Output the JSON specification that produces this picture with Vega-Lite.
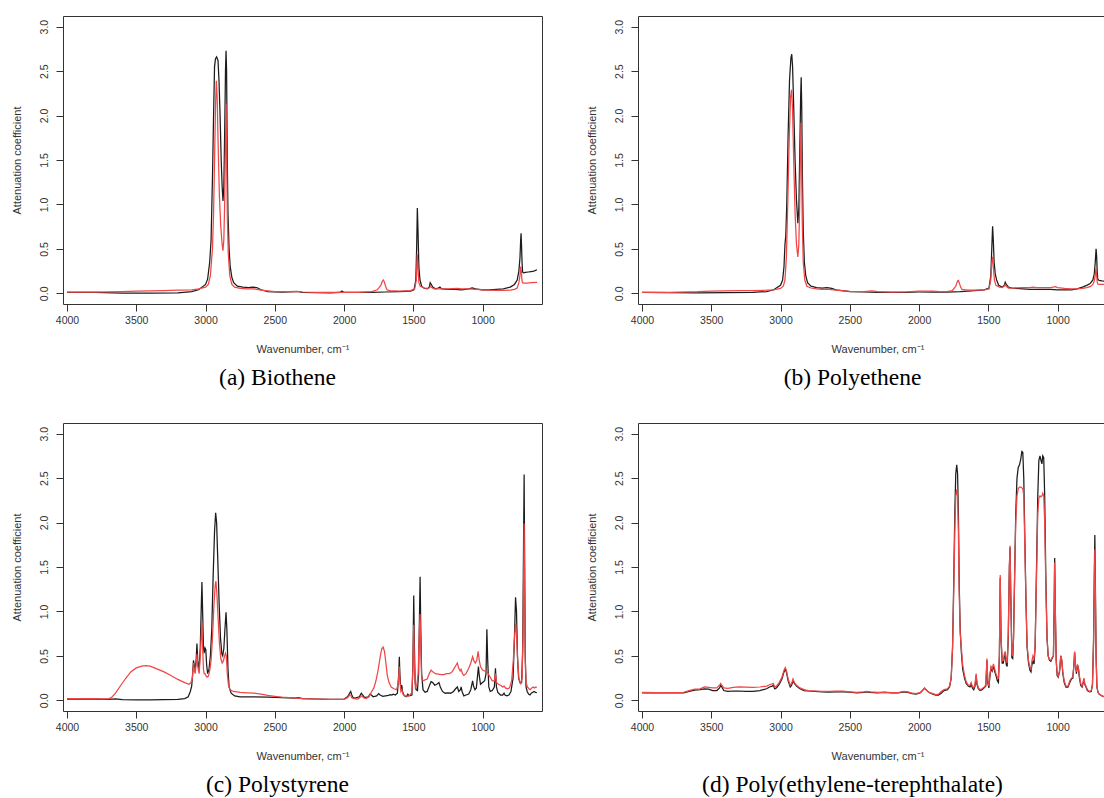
{
"$schema": "https://vega.github.io/schema/vega-lite/v6.json",
"padding": {"left": 10, "top": 15, "right": 0, "bottom": 0},
"background": "white",
"config": {
  "view": {"stroke": "#333333", "strokeWidth": 1},
  "font": "Liberation Sans",
  "axis": {"grid": false, "domain": false, "tickColor": "#333333", "tickSize": 7, "labelColor": "#333333", "labelFont": "Liberation Sans", "labelFontSize": 10.5, "titleFont": "Liberation Sans", "titleFontSize": 11, "titleFontWeight": "normal", "titleColor": "#333333"},
  "axisX": {"labelPadding": 4, "titlePadding": 18},
  "axisY": {"labelAngle": 270, "labelPadding": 7, "titlePadding": 17},
  "title": {"orient": "bottom", "font": "Liberation Serif", "fontSize": 23.5, "fontWeight": "normal", "color": "black", "frame": "group", "anchor": "middle", "dx": -25, "offset": 11},
  "line": {"strokeWidth": 1.25, "clip": true}
},
"datasets": {
"a": [
{"wn":4000,"v":0.012,"s":"k"},{"wn":3800,"v":0.01,"s":"k"},{"wn":3600,"v":0.003,"s":"k"},{"wn":3400,"v":0.002,"s":"k"},{"wn":3200,"v":0.005,"s":"k"},{"wn":3100,"v":0.02,"s":"k"},{"wn":3050,"v":0.04,"s":"k"},{"wn":3000,"v":0.1,"s":"k"},{"wn":2985,"v":0.16,"s":"k"},{"wn":2970,"v":0.35,"s":"k"},{"wn":2960,"v":0.6,"s":"k"},{"wn":2950,"v":1.3,"s":"k"},{"wn":2942,"v":2.0,"s":"k"},{"wn":2935,"v":2.55,"s":"k"},{"wn":2928,"v":2.64,"s":"k"},{"wn":2920,"v":2.66,"s":"k"},{"wn":2910,"v":2.62,"s":"k"},{"wn":2903,"v":2.4,"s":"k"},{"wn":2895,"v":2.0,"s":"k"},{"wn":2887,"v":1.5,"s":"k"},{"wn":2880,"v":1.2,"s":"k"},{"wn":2874,"v":1.04,"s":"k"},{"wn":2868,"v":1.2,"s":"k"},{"wn":2861,"v":1.9,"s":"k"},{"wn":2856,"v":2.5,"s":"k"},{"wn":2852,"v":2.73,"s":"k"},{"wn":2848,"v":2.5,"s":"k"},{"wn":2843,"v":1.5,"s":"k"},{"wn":2838,"v":0.9,"s":"k"},{"wn":2830,"v":0.5,"s":"k"},{"wn":2822,"v":0.3,"s":"k"},{"wn":2810,"v":0.18,"s":"k"},{"wn":2797,"v":0.12,"s":"k"},{"wn":2770,"v":0.08,"s":"k"},{"wn":2730,"v":0.07,"s":"k"},{"wn":2690,"v":0.065,"s":"k"},{"wn":2660,"v":0.07,"s":"k"},{"wn":2630,"v":0.065,"s":"k"},{"wn":2600,"v":0.04,"s":"k"},{"wn":2550,"v":0.02,"s":"k"},{"wn":2450,"v":0.015,"s":"k"},{"wn":2350,"v":0.02,"s":"k"},{"wn":2330,"v":0.02,"s":"k"},{"wn":2300,"v":0.012,"s":"k"},{"wn":2200,"v":0.008,"s":"k"},{"wn":2100,"v":0.006,"s":"k"},{"wn":2030,"v":0.01,"s":"k"},{"wn":2015,"v":0.025,"s":"k"},{"wn":2000,"v":0.01,"s":"k"},{"wn":1900,"v":0.01,"s":"k"},{"wn":1800,"v":0.012,"s":"k"},{"wn":1700,"v":0.015,"s":"k"},{"wn":1600,"v":0.02,"s":"k"},{"wn":1520,"v":0.025,"s":"k"},{"wn":1495,"v":0.04,"s":"k"},{"wn":1482,"v":0.15,"s":"k"},{"wn":1476,"v":0.5,"s":"k"},{"wn":1471,"v":0.96,"s":"k"},{"wn":1466,"v":0.7,"s":"k"},{"wn":1460,"v":0.3,"s":"k"},{"wn":1452,"v":0.15,"s":"k"},{"wn":1440,"v":0.08,"s":"k"},{"wn":1425,"v":0.06,"s":"k"},{"wn":1400,"v":0.05,"s":"k"},{"wn":1385,"v":0.07,"s":"k"},{"wn":1378,"v":0.12,"s":"k"},{"wn":1370,"v":0.1,"s":"k"},{"wn":1360,"v":0.07,"s":"k"},{"wn":1340,"v":0.05,"s":"k"},{"wn":1320,"v":0.06,"s":"k"},{"wn":1308,"v":0.07,"s":"k"},{"wn":1295,"v":0.05,"s":"k"},{"wn":1250,"v":0.045,"s":"k"},{"wn":1200,"v":0.045,"s":"k"},{"wn":1150,"v":0.04,"s":"k"},{"wn":1100,"v":0.05,"s":"k"},{"wn":1075,"v":0.06,"s":"k"},{"wn":1050,"v":0.05,"s":"k"},{"wn":1000,"v":0.04,"s":"k"},{"wn":950,"v":0.04,"s":"k"},{"wn":900,"v":0.045,"s":"k"},{"wn":850,"v":0.05,"s":"k"},{"wn":800,"v":0.07,"s":"k"},{"wn":770,"v":0.1,"s":"k"},{"wn":750,"v":0.15,"s":"k"},{"wn":738,"v":0.25,"s":"k"},{"wn":730,"v":0.4,"s":"k"},{"wn":725,"v":0.6,"s":"k"},{"wn":722,"v":0.675,"s":"k"},{"wn":719,"v":0.55,"s":"k"},{"wn":715,"v":0.35,"s":"k"},{"wn":711,"v":0.24,"s":"k"},{"wn":705,"v":0.23,"s":"k"},{"wn":690,"v":0.235,"s":"k"},{"wn":670,"v":0.24,"s":"k"},{"wn":650,"v":0.245,"s":"k"},{"wn":630,"v":0.25,"s":"k"},{"wn":607,"v":0.265,"s":"k"},
{"wn":4000,"v":0.015,"s":"r"},{"wn":3800,"v":0.015,"s":"r"},{"wn":3600,"v":0.02,"s":"r"},{"wn":3500,"v":0.025,"s":"r"},{"wn":3400,"v":0.027,"s":"r"},{"wn":3300,"v":0.03,"s":"r"},{"wn":3200,"v":0.035,"s":"r"},{"wn":3100,"v":0.04,"s":"r"},{"wn":3050,"v":0.05,"s":"r"},{"wn":3000,"v":0.07,"s":"r"},{"wn":2980,"v":0.1,"s":"r"},{"wn":2965,"v":0.2,"s":"r"},{"wn":2950,"v":0.5,"s":"r"},{"wn":2942,"v":0.9,"s":"r"},{"wn":2935,"v":1.5,"s":"r"},{"wn":2928,"v":2.1,"s":"r"},{"wn":2922,"v":2.39,"s":"r"},{"wn":2916,"v":2.2,"s":"r"},{"wn":2908,"v":1.6,"s":"r"},{"wn":2900,"v":1.1,"s":"r"},{"wn":2890,"v":0.75,"s":"r"},{"wn":2880,"v":0.55,"s":"r"},{"wn":2874,"v":0.48,"s":"r"},{"wn":2868,"v":0.6,"s":"r"},{"wn":2862,"v":1.0,"s":"r"},{"wn":2856,"v":1.7,"s":"r"},{"wn":2852,"v":2.13,"s":"r"},{"wn":2848,"v":1.6,"s":"r"},{"wn":2843,"v":0.9,"s":"r"},{"wn":2836,"v":0.45,"s":"r"},{"wn":2825,"v":0.2,"s":"r"},{"wn":2810,"v":0.1,"s":"r"},{"wn":2790,"v":0.07,"s":"r"},{"wn":2750,"v":0.055,"s":"r"},{"wn":2700,"v":0.05,"s":"r"},{"wn":2650,"v":0.05,"s":"r"},{"wn":2600,"v":0.035,"s":"r"},{"wn":2500,"v":0.02,"s":"r"},{"wn":2400,"v":0.018,"s":"r"},{"wn":2340,"v":0.022,"s":"r"},{"wn":2300,"v":0.015,"s":"r"},{"wn":2200,"v":0.012,"s":"r"},{"wn":2100,"v":0.012,"s":"r"},{"wn":2000,"v":0.012,"s":"r"},{"wn":1900,"v":0.012,"s":"r"},{"wn":1800,"v":0.02,"s":"r"},{"wn":1760,"v":0.04,"s":"r"},{"wn":1735,"v":0.09,"s":"r"},{"wn":1722,"v":0.14,"s":"r"},{"wn":1716,"v":0.15,"s":"r"},{"wn":1710,"v":0.13,"s":"r"},{"wn":1700,"v":0.08,"s":"r"},{"wn":1690,"v":0.04,"s":"r"},{"wn":1670,"v":0.03,"s":"r"},{"wn":1600,"v":0.025,"s":"r"},{"wn":1520,"v":0.03,"s":"r"},{"wn":1490,"v":0.05,"s":"r"},{"wn":1478,"v":0.15,"s":"r"},{"wn":1472,"v":0.44,"s":"r"},{"wn":1467,"v":0.3,"s":"r"},{"wn":1460,"v":0.12,"s":"r"},{"wn":1450,"v":0.08,"s":"r"},{"wn":1420,"v":0.06,"s":"r"},{"wn":1400,"v":0.055,"s":"r"},{"wn":1385,"v":0.06,"s":"r"},{"wn":1377,"v":0.08,"s":"r"},{"wn":1368,"v":0.065,"s":"r"},{"wn":1350,"v":0.05,"s":"r"},{"wn":1300,"v":0.05,"s":"r"},{"wn":1250,"v":0.05,"s":"r"},{"wn":1180,"v":0.055,"s":"r"},{"wn":1150,"v":0.05,"s":"r"},{"wn":1100,"v":0.05,"s":"r"},{"wn":1050,"v":0.045,"s":"r"},{"wn":1000,"v":0.04,"s":"r"},{"wn":950,"v":0.035,"s":"r"},{"wn":900,"v":0.033,"s":"r"},{"wn":850,"v":0.033,"s":"r"},{"wn":800,"v":0.035,"s":"r"},{"wn":770,"v":0.045,"s":"r"},{"wn":750,"v":0.06,"s":"r"},{"wn":738,"v":0.12,"s":"r"},{"wn":730,"v":0.2,"s":"r"},{"wn":725,"v":0.3,"s":"r"},{"wn":720,"v":0.25,"s":"r"},{"wn":716,"v":0.15,"s":"r"},{"wn":712,"v":0.12,"s":"r"},{"wn":700,"v":0.115,"s":"r"},{"wn":680,"v":0.115,"s":"r"},{"wn":650,"v":0.12,"s":"r"},{"wn":607,"v":0.122,"s":"r"}
],
"b": [
{"wn":4000,"v":0.01,"s":"k"},{"wn":3800,"v":0.008,"s":"k"},{"wn":3600,"v":0.005,"s":"k"},{"wn":3400,"v":0.008,"s":"k"},{"wn":3200,"v":0.01,"s":"k"},{"wn":3100,"v":0.02,"s":"k"},{"wn":3050,"v":0.04,"s":"k"},{"wn":3000,"v":0.09,"s":"k"},{"wn":2985,"v":0.15,"s":"k"},{"wn":2975,"v":0.3,"s":"k"},{"wn":2968,"v":0.55,"s":"k"},{"wn":2962,"v":0.65,"s":"k"},{"wn":2955,"v":1.0,"s":"k"},{"wn":2945,"v":1.8,"s":"k"},{"wn":2935,"v":2.4,"s":"k"},{"wn":2925,"v":2.65,"s":"k"},{"wn":2919,"v":2.69,"s":"k"},{"wn":2913,"v":2.55,"s":"k"},{"wn":2905,"v":2.1,"s":"k"},{"wn":2895,"v":1.5,"s":"k"},{"wn":2885,"v":1.05,"s":"k"},{"wn":2875,"v":0.79,"s":"k"},{"wn":2868,"v":0.95,"s":"k"},{"wn":2861,"v":1.6,"s":"k"},{"wn":2855,"v":2.2,"s":"k"},{"wn":2851,"v":2.43,"s":"k"},{"wn":2847,"v":2.1,"s":"k"},{"wn":2842,"v":1.3,"s":"k"},{"wn":2836,"v":0.7,"s":"k"},{"wn":2828,"v":0.35,"s":"k"},{"wn":2818,"v":0.2,"s":"k"},{"wn":2805,"v":0.12,"s":"k"},{"wn":2780,"v":0.08,"s":"k"},{"wn":2740,"v":0.065,"s":"k"},{"wn":2700,"v":0.06,"s":"k"},{"wn":2665,"v":0.065,"s":"k"},{"wn":2630,"v":0.055,"s":"k"},{"wn":2600,"v":0.04,"s":"k"},{"wn":2500,"v":0.02,"s":"k"},{"wn":2400,"v":0.015,"s":"k"},{"wn":2300,"v":0.012,"s":"k"},{"wn":2200,"v":0.01,"s":"k"},{"wn":2100,"v":0.012,"s":"k"},{"wn":2000,"v":0.015,"s":"k"},{"wn":1900,"v":0.015,"s":"k"},{"wn":1800,"v":0.015,"s":"k"},{"wn":1700,"v":0.02,"s":"k"},{"wn":1600,"v":0.03,"s":"k"},{"wn":1530,"v":0.04,"s":"k"},{"wn":1495,"v":0.06,"s":"k"},{"wn":1482,"v":0.2,"s":"k"},{"wn":1475,"v":0.5,"s":"k"},{"wn":1469,"v":0.755,"s":"k"},{"wn":1464,"v":0.6,"s":"k"},{"wn":1458,"v":0.35,"s":"k"},{"wn":1450,"v":0.22,"s":"k"},{"wn":1440,"v":0.15,"s":"k"},{"wn":1425,"v":0.09,"s":"k"},{"wn":1400,"v":0.07,"s":"k"},{"wn":1385,"v":0.09,"s":"k"},{"wn":1378,"v":0.125,"s":"k"},{"wn":1370,"v":0.1,"s":"k"},{"wn":1355,"v":0.07,"s":"k"},{"wn":1330,"v":0.06,"s":"k"},{"wn":1300,"v":0.055,"s":"k"},{"wn":1250,"v":0.05,"s":"k"},{"wn":1200,"v":0.045,"s":"k"},{"wn":1150,"v":0.045,"s":"k"},{"wn":1100,"v":0.045,"s":"k"},{"wn":1050,"v":0.045,"s":"k"},{"wn":1000,"v":0.04,"s":"k"},{"wn":950,"v":0.04,"s":"k"},{"wn":900,"v":0.04,"s":"k"},{"wn":860,"v":0.05,"s":"k"},{"wn":820,"v":0.07,"s":"k"},{"wn":790,"v":0.09,"s":"k"},{"wn":765,"v":0.11,"s":"k"},{"wn":745,"v":0.15,"s":"k"},{"wn":735,"v":0.22,"s":"k"},{"wn":728,"v":0.35,"s":"k"},{"wn":722,"v":0.5,"s":"k"},{"wn":718,"v":0.42,"s":"k"},{"wn":714,"v":0.25,"s":"k"},{"wn":710,"v":0.16,"s":"k"},{"wn":700,"v":0.145,"s":"k"},{"wn":680,"v":0.14,"s":"k"},{"wn":650,"v":0.135,"s":"k"},{"wn":620,"v":0.13,"s":"k"},{"wn":605,"v":0.13,"s":"k"},
{"wn":4000,"v":0.012,"s":"r"},{"wn":3800,"v":0.012,"s":"r"},{"wn":3600,"v":0.018,"s":"r"},{"wn":3500,"v":0.025,"s":"r"},{"wn":3400,"v":0.028,"s":"r"},{"wn":3300,"v":0.03,"s":"r"},{"wn":3200,"v":0.03,"s":"r"},{"wn":3100,"v":0.035,"s":"r"},{"wn":3050,"v":0.04,"s":"r"},{"wn":3000,"v":0.055,"s":"r"},{"wn":2980,"v":0.08,"s":"r"},{"wn":2968,"v":0.15,"s":"r"},{"wn":2958,"v":0.4,"s":"r"},{"wn":2948,"v":1.0,"s":"r"},{"wn":2938,"v":1.7,"s":"r"},{"wn":2928,"v":2.2,"s":"r"},{"wn":2921,"v":2.29,"s":"r"},{"wn":2914,"v":2.1,"s":"r"},{"wn":2905,"v":1.5,"s":"r"},{"wn":2895,"v":0.9,"s":"r"},{"wn":2885,"v":0.55,"s":"r"},{"wn":2875,"v":0.41,"s":"r"},{"wn":2868,"v":0.55,"s":"r"},{"wn":2862,"v":1.0,"s":"r"},{"wn":2856,"v":1.6,"s":"r"},{"wn":2852,"v":1.92,"s":"r"},{"wn":2848,"v":1.5,"s":"r"},{"wn":2843,"v":0.8,"s":"r"},{"wn":2836,"v":0.35,"s":"r"},{"wn":2825,"v":0.15,"s":"r"},{"wn":2810,"v":0.08,"s":"r"},{"wn":2780,"v":0.06,"s":"r"},{"wn":2740,"v":0.05,"s":"r"},{"wn":2700,"v":0.045,"s":"r"},{"wn":2650,"v":0.045,"s":"r"},{"wn":2600,"v":0.035,"s":"r"},{"wn":2500,"v":0.022,"s":"r"},{"wn":2400,"v":0.02,"s":"r"},{"wn":2340,"v":0.028,"s":"r"},{"wn":2300,"v":0.02,"s":"r"},{"wn":2200,"v":0.013,"s":"r"},{"wn":2100,"v":0.015,"s":"r"},{"wn":2030,"v":0.022,"s":"r"},{"wn":2000,"v":0.025,"s":"r"},{"wn":1900,"v":0.025,"s":"r"},{"wn":1850,"v":0.02,"s":"r"},{"wn":1800,"v":0.018,"s":"r"},{"wn":1760,"v":0.03,"s":"r"},{"wn":1735,"v":0.08,"s":"r"},{"wn":1722,"v":0.14,"s":"r"},{"wn":1716,"v":0.145,"s":"r"},{"wn":1710,"v":0.12,"s":"r"},{"wn":1700,"v":0.07,"s":"r"},{"wn":1690,"v":0.045,"s":"r"},{"wn":1650,"v":0.035,"s":"r"},{"wn":1600,"v":0.035,"s":"r"},{"wn":1530,"v":0.04,"s":"r"},{"wn":1495,"v":0.05,"s":"r"},{"wn":1482,"v":0.15,"s":"r"},{"wn":1475,"v":0.35,"s":"r"},{"wn":1469,"v":0.41,"s":"r"},{"wn":1464,"v":0.3,"s":"r"},{"wn":1456,"v":0.15,"s":"r"},{"wn":1445,"v":0.09,"s":"r"},{"wn":1420,"v":0.07,"s":"r"},{"wn":1400,"v":0.065,"s":"r"},{"wn":1385,"v":0.08,"s":"r"},{"wn":1378,"v":0.1,"s":"r"},{"wn":1370,"v":0.08,"s":"r"},{"wn":1355,"v":0.06,"s":"r"},{"wn":1330,"v":0.06,"s":"r"},{"wn":1300,"v":0.062,"s":"r"},{"wn":1250,"v":0.065,"s":"r"},{"wn":1200,"v":0.065,"s":"r"},{"wn":1180,"v":0.07,"s":"r"},{"wn":1150,"v":0.065,"s":"r"},{"wn":1100,"v":0.065,"s":"r"},{"wn":1050,"v":0.065,"s":"r"},{"wn":1015,"v":0.075,"s":"r"},{"wn":1000,"v":0.065,"s":"r"},{"wn":950,"v":0.055,"s":"r"},{"wn":900,"v":0.05,"s":"r"},{"wn":860,"v":0.05,"s":"r"},{"wn":820,"v":0.055,"s":"r"},{"wn":790,"v":0.065,"s":"r"},{"wn":765,"v":0.075,"s":"r"},{"wn":745,"v":0.1,"s":"r"},{"wn":735,"v":0.14,"s":"r"},{"wn":728,"v":0.2,"s":"r"},{"wn":723,"v":0.28,"s":"r"},{"wn":719,"v":0.22,"s":"r"},{"wn":714,"v":0.13,"s":"r"},{"wn":710,"v":0.105,"s":"r"},{"wn":700,"v":0.1,"s":"r"},{"wn":680,"v":0.1,"s":"r"},{"wn":650,"v":0.1,"s":"r"},{"wn":620,"v":0.1,"s":"r"},{"wn":605,"v":0.1,"s":"r"}
],
"c": [
{"wn":4000,"v":0.015,"s":"k"},{"wn":3800,"v":0.013,"s":"k"},{"wn":3700,"v":0.012,"s":"k"},{"wn":3650,"v":0.015,"s":"k"},{"wn":3600,"v":0.008,"s":"k"},{"wn":3500,"v":0.005,"s":"k"},{"wn":3400,"v":0.005,"s":"k"},{"wn":3300,"v":0.007,"s":"k"},{"wn":3200,"v":0.01,"s":"k"},{"wn":3150,"v":0.02,"s":"k"},{"wn":3125,"v":0.04,"s":"k"},{"wn":3110,"v":0.1,"s":"k"},{"wn":3100,"v":0.16,"s":"k"},{"wn":3093,"v":0.3,"s":"k"},{"wn":3087,"v":0.45,"s":"k"},{"wn":3080,"v":0.38,"s":"k"},{"wn":3075,"v":0.35,"s":"k"},{"wn":3068,"v":0.45,"s":"k"},{"wn":3062,"v":0.64,"s":"k"},{"wn":3056,"v":0.45,"s":"k"},{"wn":3046,"v":0.34,"s":"k"},{"wn":3038,"v":0.6,"s":"k"},{"wn":3030,"v":1.1,"s":"k"},{"wn":3026,"v":1.33,"s":"k"},{"wn":3021,"v":1.0,"s":"k"},{"wn":3015,"v":0.6,"s":"k"},{"wn":3010,"v":0.53,"s":"k"},{"wn":3004,"v":0.59,"s":"k"},{"wn":2998,"v":0.57,"s":"k"},{"wn":2992,"v":0.4,"s":"k"},{"wn":2985,"v":0.3,"s":"k"},{"wn":2975,"v":0.35,"s":"k"},{"wn":2965,"v":0.5,"s":"k"},{"wn":2955,"v":0.8,"s":"k"},{"wn":2945,"v":1.4,"s":"k"},{"wn":2935,"v":1.9,"s":"k"},{"wn":2927,"v":2.11,"s":"k"},{"wn":2920,"v":2.0,"s":"k"},{"wn":2912,"v":1.6,"s":"k"},{"wn":2902,"v":1.1,"s":"k"},{"wn":2892,"v":0.7,"s":"k"},{"wn":2882,"v":0.52,"s":"k"},{"wn":2876,"v":0.5,"s":"k"},{"wn":2868,"v":0.58,"s":"k"},{"wn":2860,"v":0.8,"s":"k"},{"wn":2852,"v":0.99,"s":"k"},{"wn":2846,"v":0.8,"s":"k"},{"wn":2838,"v":0.35,"s":"k"},{"wn":2830,"v":0.15,"s":"k"},{"wn":2815,"v":0.08,"s":"k"},{"wn":2790,"v":0.05,"s":"k"},{"wn":2750,"v":0.04,"s":"k"},{"wn":2650,"v":0.04,"s":"k"},{"wn":2550,"v":0.035,"s":"k"},{"wn":2450,"v":0.03,"s":"k"},{"wn":2350,"v":0.025,"s":"k"},{"wn":2330,"v":0.03,"s":"k"},{"wn":2300,"v":0.02,"s":"k"},{"wn":2200,"v":0.015,"s":"k"},{"wn":2100,"v":0.012,"s":"k"},{"wn":2000,"v":0.015,"s":"k"},{"wn":1975,"v":0.04,"s":"k"},{"wn":1960,"v":0.08,"s":"k"},{"wn":1952,"v":0.1,"s":"k"},{"wn":1944,"v":0.06,"s":"k"},{"wn":1935,"v":0.03,"s":"k"},{"wn":1920,"v":0.025,"s":"k"},{"wn":1890,"v":0.04,"s":"k"},{"wn":1875,"v":0.08,"s":"k"},{"wn":1866,"v":0.06,"s":"k"},{"wn":1850,"v":0.03,"s":"k"},{"wn":1825,"v":0.04,"s":"k"},{"wn":1812,"v":0.07,"s":"k"},{"wn":1803,"v":0.06,"s":"k"},{"wn":1790,"v":0.04,"s":"k"},{"wn":1765,"v":0.05,"s":"k"},{"wn":1750,"v":0.075,"s":"k"},{"wn":1740,"v":0.06,"s":"k"},{"wn":1720,"v":0.045,"s":"k"},{"wn":1700,"v":0.05,"s":"k"},{"wn":1680,"v":0.055,"s":"k"},{"wn":1665,"v":0.065,"s":"k"},{"wn":1655,"v":0.06,"s":"k"},{"wn":1645,"v":0.07,"s":"k"},{"wn":1630,"v":0.06,"s":"k"},{"wn":1615,"v":0.08,"s":"k"},{"wn":1605,"v":0.3,"s":"k"},{"wn":1601,"v":0.49,"s":"k"},{"wn":1597,"v":0.3,"s":"k"},{"wn":1590,"v":0.12,"s":"k"},{"wn":1583,"v":0.17,"s":"k"},{"wn":1578,"v":0.1,"s":"k"},{"wn":1565,"v":0.05,"s":"k"},{"wn":1550,"v":0.04,"s":"k"},{"wn":1540,"v":0.07,"s":"k"},{"wn":1530,"v":0.05,"s":"k"},{"wn":1510,"v":0.06,"s":"k"},{"wn":1503,"v":0.4,"s":"k"},{"wn":1497,"v":1.18,"s":"k"},{"wn":1492,"v":0.6,"s":"k"},{"wn":1487,"v":0.2,"s":"k"},{"wn":1480,"v":0.12,"s":"k"},{"wn":1470,"v":0.11,"s":"k"},{"wn":1462,"v":0.3,"s":"k"},{"wn":1455,"v":1.0,"s":"k"},{"wn":1451,"v":1.39,"s":"k"},{"wn":1446,"v":0.8,"s":"k"},{"wn":1440,"v":0.3,"s":"k"},{"wn":1430,"v":0.12,"s":"k"},{"wn":1415,"v":0.09,"s":"k"},{"wn":1400,"v":0.1,"s":"k"},{"wn":1385,"v":0.16,"s":"k"},{"wn":1372,"v":0.21,"s":"k"},{"wn":1360,"v":0.2,"s":"k"},{"wn":1345,"v":0.17,"s":"k"},{"wn":1330,"v":0.18,"s":"k"},{"wn":1315,"v":0.2,"s":"k"},{"wn":1305,"v":0.15,"s":"k"},{"wn":1290,"v":0.1,"s":"k"},{"wn":1270,"v":0.08,"s":"k"},{"wn":1250,"v":0.085,"s":"k"},{"wn":1230,"v":0.08,"s":"k"},{"wn":1210,"v":0.1,"s":"k"},{"wn":1195,"v":0.13,"s":"k"},{"wn":1182,"v":0.15,"s":"k"},{"wn":1172,"v":0.1,"s":"k"},{"wn":1160,"v":0.12,"s":"k"},{"wn":1155,"v":0.15,"s":"k"},{"wn":1148,"v":0.1,"s":"k"},{"wn":1135,"v":0.05,"s":"k"},{"wn":1120,"v":0.06,"s":"k"},{"wn":1100,"v":0.07,"s":"k"},{"wn":1085,"v":0.12,"s":"k"},{"wn":1072,"v":0.22,"s":"k"},{"wn":1065,"v":0.16,"s":"k"},{"wn":1055,"v":0.12,"s":"k"},{"wn":1045,"v":0.14,"s":"k"},{"wn":1038,"v":0.25,"s":"k"},{"wn":1030,"v":0.38,"s":"k"},{"wn":1024,"v":0.28,"s":"k"},{"wn":1015,"v":0.18,"s":"k"},{"wn":1000,"v":0.2,"s":"k"},{"wn":985,"v":0.22,"s":"k"},{"wn":975,"v":0.3,"s":"k"},{"wn":969,"v":0.8,"s":"k"},{"wn":963,"v":0.45,"s":"k"},{"wn":955,"v":0.15,"s":"k"},{"wn":945,"v":0.1,"s":"k"},{"wn":930,"v":0.11,"s":"k"},{"wn":915,"v":0.15,"s":"k"},{"wn":907,"v":0.36,"s":"k"},{"wn":900,"v":0.15,"s":"k"},{"wn":890,"v":0.09,"s":"k"},{"wn":870,"v":0.06,"s":"k"},{"wn":855,"v":0.06,"s":"k"},{"wn":845,"v":0.08,"s":"k"},{"wn":838,"v":0.06,"s":"k"},{"wn":825,"v":0.05,"s":"k"},{"wn":810,"v":0.06,"s":"k"},{"wn":795,"v":0.1,"s":"k"},{"wn":780,"v":0.25,"s":"k"},{"wn":770,"v":0.7,"s":"k"},{"wn":762,"v":1.16,"s":"k"},{"wn":755,"v":1.0,"s":"k"},{"wn":748,"v":0.5,"s":"k"},{"wn":740,"v":0.25,"s":"k"},{"wn":730,"v":0.2,"s":"k"},{"wn":718,"v":0.2,"s":"k"},{"wn":710,"v":0.6,"s":"k"},{"wn":704,"v":1.8,"s":"k"},{"wn":700,"v":2.54,"s":"k"},{"wn":696,"v":1.5,"s":"k"},{"wn":692,"v":0.5,"s":"k"},{"wn":686,"v":0.15,"s":"k"},{"wn":678,"v":0.1,"s":"k"},{"wn":668,"v":0.07,"s":"k"},{"wn":658,"v":0.06,"s":"k"},{"wn":648,"v":0.08,"s":"k"},{"wn":638,"v":0.09,"s":"k"},{"wn":628,"v":0.1,"s":"k"},{"wn":618,"v":0.09,"s":"k"},{"wn":608,"v":0.085,"s":"k"},
{"wn":4000,"v":0.02,"s":"r"},{"wn":3900,"v":0.02,"s":"r"},{"wn":3800,"v":0.018,"s":"r"},{"wn":3750,"v":0.016,"s":"r"},{"wn":3700,"v":0.017,"s":"r"},{"wn":3680,"v":0.03,"s":"r"},{"wn":3650,"v":0.08,"s":"r"},{"wn":3620,"v":0.15,"s":"r"},{"wn":3580,"v":0.24,"s":"r"},{"wn":3540,"v":0.32,"s":"r"},{"wn":3500,"v":0.365,"s":"r"},{"wn":3460,"v":0.385,"s":"r"},{"wn":3430,"v":0.39,"s":"r"},{"wn":3400,"v":0.385,"s":"r"},{"wn":3360,"v":0.36,"s":"r"},{"wn":3300,"v":0.32,"s":"r"},{"wn":3250,"v":0.28,"s":"r"},{"wn":3200,"v":0.235,"s":"r"},{"wn":3150,"v":0.2,"s":"r"},{"wn":3120,"v":0.18,"s":"r"},{"wn":3105,"v":0.2,"s":"r"},{"wn":3095,"v":0.25,"s":"r"},{"wn":3087,"v":0.42,"s":"r"},{"wn":3080,"v":0.33,"s":"r"},{"wn":3075,"v":0.3,"s":"r"},{"wn":3068,"v":0.4,"s":"r"},{"wn":3062,"v":0.52,"s":"r"},{"wn":3056,"v":0.38,"s":"r"},{"wn":3046,"v":0.3,"s":"r"},{"wn":3038,"v":0.5,"s":"r"},{"wn":3030,"v":0.75,"s":"r"},{"wn":3026,"v":0.89,"s":"r"},{"wn":3021,"v":0.6,"s":"r"},{"wn":3015,"v":0.35,"s":"r"},{"wn":3010,"v":0.3,"s":"r"},{"wn":3004,"v":0.3,"s":"r"},{"wn":2998,"v":0.28,"s":"r"},{"wn":2990,"v":0.26,"s":"r"},{"wn":2980,"v":0.27,"s":"r"},{"wn":2970,"v":0.33,"s":"r"},{"wn":2960,"v":0.45,"s":"r"},{"wn":2950,"v":0.7,"s":"r"},{"wn":2940,"v":1.05,"s":"r"},{"wn":2930,"v":1.3,"s":"r"},{"wn":2925,"v":1.34,"s":"r"},{"wn":2918,"v":1.2,"s":"r"},{"wn":2910,"v":0.95,"s":"r"},{"wn":2900,"v":0.65,"s":"r"},{"wn":2890,"v":0.47,"s":"r"},{"wn":2880,"v":0.42,"s":"r"},{"wn":2872,"v":0.44,"s":"r"},{"wn":2862,"v":0.5,"s":"r"},{"wn":2856,"v":0.53,"s":"r"},{"wn":2850,"v":0.5,"s":"r"},{"wn":2843,"v":0.3,"s":"r"},{"wn":2835,"v":0.18,"s":"r"},{"wn":2825,"v":0.12,"s":"r"},{"wn":2800,"v":0.1,"s":"r"},{"wn":2750,"v":0.09,"s":"r"},{"wn":2700,"v":0.085,"s":"r"},{"wn":2650,"v":0.08,"s":"r"},{"wn":2600,"v":0.07,"s":"r"},{"wn":2550,"v":0.055,"s":"r"},{"wn":2500,"v":0.045,"s":"r"},{"wn":2450,"v":0.035,"s":"r"},{"wn":2400,"v":0.03,"s":"r"},{"wn":2350,"v":0.025,"s":"r"},{"wn":2300,"v":0.02,"s":"r"},{"wn":2200,"v":0.015,"s":"r"},{"wn":2100,"v":0.012,"s":"r"},{"wn":2000,"v":0.012,"s":"r"},{"wn":1975,"v":0.03,"s":"r"},{"wn":1960,"v":0.06,"s":"r"},{"wn":1952,"v":0.06,"s":"r"},{"wn":1944,"v":0.03,"s":"r"},{"wn":1930,"v":0.02,"s":"r"},{"wn":1900,"v":0.015,"s":"r"},{"wn":1880,"v":0.04,"s":"r"},{"wn":1870,"v":0.05,"s":"r"},{"wn":1860,"v":0.03,"s":"r"},{"wn":1840,"v":0.02,"s":"r"},{"wn":1820,"v":0.04,"s":"r"},{"wn":1810,"v":0.07,"s":"r"},{"wn":1800,"v":0.1,"s":"r"},{"wn":1785,"v":0.14,"s":"r"},{"wn":1770,"v":0.22,"s":"r"},{"wn":1755,"v":0.33,"s":"r"},{"wn":1740,"v":0.48,"s":"r"},{"wn":1728,"v":0.58,"s":"r"},{"wn":1718,"v":0.6,"s":"r"},{"wn":1708,"v":0.55,"s":"r"},{"wn":1698,"v":0.42,"s":"r"},{"wn":1688,"v":0.28,"s":"r"},{"wn":1675,"v":0.2,"s":"r"},{"wn":1660,"v":0.15,"s":"r"},{"wn":1640,"v":0.13,"s":"r"},{"wn":1620,"v":0.12,"s":"r"},{"wn":1608,"v":0.2,"s":"r"},{"wn":1601,"v":0.38,"s":"r"},{"wn":1596,"v":0.2,"s":"r"},{"wn":1590,"v":0.1,"s":"r"},{"wn":1583,"v":0.12,"s":"r"},{"wn":1575,"v":0.07,"s":"r"},{"wn":1560,"v":0.05,"s":"r"},{"wn":1545,"v":0.045,"s":"r"},{"wn":1530,"v":0.05,"s":"r"},{"wn":1510,"v":0.09,"s":"r"},{"wn":1503,"v":0.35,"s":"r"},{"wn":1497,"v":0.85,"s":"r"},{"wn":1492,"v":0.4,"s":"r"},{"wn":1485,"v":0.15,"s":"r"},{"wn":1475,"v":0.17,"s":"r"},{"wn":1465,"v":0.3,"s":"r"},{"wn":1456,"v":0.8,"s":"r"},{"wn":1451,"v":0.97,"s":"r"},{"wn":1446,"v":0.6,"s":"r"},{"wn":1440,"v":0.25,"s":"r"},{"wn":1430,"v":0.22,"s":"r"},{"wn":1415,"v":0.23,"s":"r"},{"wn":1400,"v":0.24,"s":"r"},{"wn":1385,"v":0.3,"s":"r"},{"wn":1372,"v":0.34,"s":"r"},{"wn":1360,"v":0.32,"s":"r"},{"wn":1340,"v":0.3,"s":"r"},{"wn":1320,"v":0.295,"s":"r"},{"wn":1300,"v":0.29,"s":"r"},{"wn":1280,"v":0.29,"s":"r"},{"wn":1260,"v":0.3,"s":"r"},{"wn":1240,"v":0.3,"s":"r"},{"wn":1220,"v":0.32,"s":"r"},{"wn":1205,"v":0.36,"s":"r"},{"wn":1190,"v":0.4,"s":"r"},{"wn":1182,"v":0.42,"s":"r"},{"wn":1172,"v":0.36,"s":"r"},{"wn":1162,"v":0.33,"s":"r"},{"wn":1155,"v":0.35,"s":"r"},{"wn":1145,"v":0.3,"s":"r"},{"wn":1135,"v":0.28,"s":"r"},{"wn":1120,"v":0.3,"s":"r"},{"wn":1100,"v":0.36,"s":"r"},{"wn":1085,"v":0.42,"s":"r"},{"wn":1072,"v":0.49,"s":"r"},{"wn":1062,"v":0.44,"s":"r"},{"wn":1052,"v":0.42,"s":"r"},{"wn":1042,"v":0.45,"s":"r"},{"wn":1032,"v":0.55,"s":"r"},{"wn":1024,"v":0.45,"s":"r"},{"wn":1015,"v":0.38,"s":"r"},{"wn":1000,"v":0.34,"s":"r"},{"wn":985,"v":0.33,"s":"r"},{"wn":975,"v":0.32,"s":"r"},{"wn":969,"v":0.33,"s":"r"},{"wn":960,"v":0.3,"s":"r"},{"wn":945,"v":0.26,"s":"r"},{"wn":930,"v":0.22,"s":"r"},{"wn":915,"v":0.22,"s":"r"},{"wn":907,"v":0.3,"s":"r"},{"wn":900,"v":0.2,"s":"r"},{"wn":885,"v":0.18,"s":"r"},{"wn":870,"v":0.17,"s":"r"},{"wn":855,"v":0.15,"s":"r"},{"wn":845,"v":0.16,"s":"r"},{"wn":835,"v":0.14,"s":"r"},{"wn":820,"v":0.13,"s":"r"},{"wn":805,"v":0.14,"s":"r"},{"wn":790,"v":0.22,"s":"r"},{"wn":778,"v":0.45,"s":"r"},{"wn":770,"v":0.7,"s":"r"},{"wn":762,"v":0.86,"s":"r"},{"wn":755,"v":0.75,"s":"r"},{"wn":747,"v":0.45,"s":"r"},{"wn":738,"v":0.25,"s":"r"},{"wn":725,"v":0.18,"s":"r"},{"wn":715,"v":0.25,"s":"r"},{"wn":708,"v":0.7,"s":"r"},{"wn":703,"v":1.5,"s":"r"},{"wn":700,"v":1.99,"s":"r"},{"wn":696,"v":1.2,"s":"r"},{"wn":692,"v":0.45,"s":"r"},{"wn":686,"v":0.2,"s":"r"},{"wn":676,"v":0.15,"s":"r"},{"wn":665,"v":0.13,"s":"r"},{"wn":655,"v":0.12,"s":"r"},{"wn":645,"v":0.14,"s":"r"},{"wn":635,"v":0.15,"s":"r"},{"wn":625,"v":0.14,"s":"r"},{"wn":615,"v":0.15,"s":"r"},{"wn":608,"v":0.145,"s":"r"}
],
"d": [
{"wn":4000,"v":0.085,"s":"k"},{"wn":3900,"v":0.083,"s":"k"},{"wn":3800,"v":0.083,"s":"k"},{"wn":3700,"v":0.085,"s":"k"},{"wn":3660,"v":0.1,"s":"k"},{"wn":3620,"v":0.115,"s":"k"},{"wn":3580,"v":0.12,"s":"k"},{"wn":3550,"v":0.13,"s":"k"},{"wn":3520,"v":0.125,"s":"k"},{"wn":3490,"v":0.11,"s":"k"},{"wn":3460,"v":0.11,"s":"k"},{"wn":3440,"v":0.14,"s":"k"},{"wn":3432,"v":0.17,"s":"k"},{"wn":3424,"v":0.15,"s":"k"},{"wn":3410,"v":0.11,"s":"k"},{"wn":3380,"v":0.1,"s":"k"},{"wn":3340,"v":0.105,"s":"k"},{"wn":3300,"v":0.105,"s":"k"},{"wn":3250,"v":0.1,"s":"k"},{"wn":3200,"v":0.1,"s":"k"},{"wn":3150,"v":0.11,"s":"k"},{"wn":3100,"v":0.13,"s":"k"},{"wn":3080,"v":0.15,"s":"k"},{"wn":3060,"v":0.16,"s":"k"},{"wn":3052,"v":0.17,"s":"k"},{"wn":3042,"v":0.13,"s":"k"},{"wn":3030,"v":0.14,"s":"k"},{"wn":3010,"v":0.18,"s":"k"},{"wn":2990,"v":0.24,"s":"k"},{"wn":2975,"v":0.32,"s":"k"},{"wn":2966,"v":0.35,"s":"k"},{"wn":2958,"v":0.32,"s":"k"},{"wn":2945,"v":0.22,"s":"k"},{"wn":2930,"v":0.15,"s":"k"},{"wn":2920,"v":0.17,"s":"k"},{"wn":2910,"v":0.22,"s":"k"},{"wn":2900,"v":0.19,"s":"k"},{"wn":2885,"v":0.16,"s":"k"},{"wn":2860,"v":0.13,"s":"k"},{"wn":2830,"v":0.11,"s":"k"},{"wn":2800,"v":0.105,"s":"k"},{"wn":2750,"v":0.1,"s":"k"},{"wn":2700,"v":0.095,"s":"k"},{"wn":2650,"v":0.093,"s":"k"},{"wn":2600,"v":0.095,"s":"k"},{"wn":2550,"v":0.095,"s":"k"},{"wn":2500,"v":0.092,"s":"k"},{"wn":2450,"v":0.085,"s":"k"},{"wn":2400,"v":0.09,"s":"k"},{"wn":2380,"v":0.095,"s":"k"},{"wn":2350,"v":0.09,"s":"k"},{"wn":2300,"v":0.085,"s":"k"},{"wn":2250,"v":0.09,"s":"k"},{"wn":2200,"v":0.085,"s":"k"},{"wn":2150,"v":0.085,"s":"k"},{"wn":2110,"v":0.095,"s":"k"},{"wn":2080,"v":0.09,"s":"k"},{"wn":2050,"v":0.075,"s":"k"},{"wn":2020,"v":0.07,"s":"k"},{"wn":1990,"v":0.085,"s":"k"},{"wn":1970,"v":0.12,"s":"k"},{"wn":1960,"v":0.135,"s":"k"},{"wn":1950,"v":0.12,"s":"k"},{"wn":1930,"v":0.09,"s":"k"},{"wn":1900,"v":0.07,"s":"k"},{"wn":1880,"v":0.06,"s":"k"},{"wn":1860,"v":0.06,"s":"k"},{"wn":1840,"v":0.08,"s":"k"},{"wn":1820,"v":0.11,"s":"k"},{"wn":1795,"v":0.12,"s":"k"},{"wn":1780,"v":0.15,"s":"k"},{"wn":1768,"v":0.25,"s":"k"},{"wn":1758,"v":0.6,"s":"k"},{"wn":1750,"v":1.3,"s":"k"},{"wn":1742,"v":2.1,"s":"k"},{"wn":1735,"v":2.55,"s":"k"},{"wn":1728,"v":2.65,"s":"k"},{"wn":1722,"v":2.55,"s":"k"},{"wn":1716,"v":2.1,"s":"k"},{"wn":1710,"v":1.3,"s":"k"},{"wn":1703,"v":0.8,"s":"k"},{"wn":1695,"v":0.55,"s":"k"},{"wn":1685,"v":0.35,"s":"k"},{"wn":1672,"v":0.25,"s":"k"},{"wn":1660,"v":0.19,"s":"k"},{"wn":1645,"v":0.16,"s":"k"},{"wn":1632,"v":0.15,"s":"k"},{"wn":1624,"v":0.18,"s":"k"},{"wn":1615,"v":0.14,"s":"k"},{"wn":1605,"v":0.12,"s":"k"},{"wn":1596,"v":0.16,"s":"k"},{"wn":1588,"v":0.28,"s":"k"},{"wn":1582,"v":0.18,"s":"k"},{"wn":1572,"v":0.13,"s":"k"},{"wn":1560,"v":0.11,"s":"k"},{"wn":1545,"v":0.12,"s":"k"},{"wn":1530,"v":0.14,"s":"k"},{"wn":1518,"v":0.16,"s":"k"},{"wn":1510,"v":0.45,"s":"k"},{"wn":1504,"v":0.2,"s":"k"},{"wn":1496,"v":0.14,"s":"k"},{"wn":1488,"v":0.28,"s":"k"},{"wn":1480,"v":0.36,"s":"k"},{"wn":1472,"v":0.33,"s":"k"},{"wn":1463,"v":0.39,"s":"k"},{"wn":1455,"v":0.33,"s":"k"},{"wn":1445,"v":0.28,"s":"k"},{"wn":1435,"v":0.22,"s":"k"},{"wn":1427,"v":0.2,"s":"k"},{"wn":1420,"v":0.5,"s":"k"},{"wn":1414,"v":1.38,"s":"k"},{"wn":1408,"v":0.7,"s":"k"},{"wn":1400,"v":0.42,"s":"k"},{"wn":1392,"v":0.42,"s":"k"},{"wn":1385,"v":0.48,"s":"k"},{"wn":1378,"v":0.52,"s":"k"},{"wn":1370,"v":0.4,"s":"k"},{"wn":1364,"v":0.38,"s":"k"},{"wn":1356,"v":0.7,"s":"k"},{"wn":1348,"v":1.5,"s":"k"},{"wn":1343,"v":1.72,"s":"k"},{"wn":1338,"v":1.2,"s":"k"},{"wn":1330,"v":0.48,"s":"k"},{"wn":1324,"v":0.47,"s":"k"},{"wn":1318,"v":0.7,"s":"k"},{"wn":1310,"v":1.4,"s":"k"},{"wn":1302,"v":2.1,"s":"k"},{"wn":1293,"v":2.5,"s":"k"},{"wn":1284,"v":2.62,"s":"k"},{"wn":1275,"v":2.65,"s":"k"},{"wn":1265,"v":2.72,"s":"k"},{"wn":1258,"v":2.8,"s":"k"},{"wn":1251,"v":2.79,"s":"k"},{"wn":1244,"v":2.5,"s":"k"},{"wn":1236,"v":1.8,"s":"k"},{"wn":1228,"v":1.1,"s":"k"},{"wn":1220,"v":0.6,"s":"k"},{"wn":1210,"v":0.42,"s":"k"},{"wn":1200,"v":0.34,"s":"k"},{"wn":1192,"v":0.32,"s":"k"},{"wn":1185,"v":0.4,"s":"k"},{"wn":1178,"v":0.44,"s":"k"},{"wn":1170,"v":0.41,"s":"k"},{"wn":1162,"v":0.6,"s":"k"},{"wn":1152,"v":1.5,"s":"k"},{"wn":1143,"v":2.3,"s":"k"},{"wn":1135,"v":2.7,"s":"k"},{"wn":1127,"v":2.75,"s":"k"},{"wn":1120,"v":2.7,"s":"k"},{"wn":1113,"v":2.66,"s":"k"},{"wn":1107,"v":2.75,"s":"k"},{"wn":1100,"v":2.73,"s":"k"},{"wn":1093,"v":2.3,"s":"k"},{"wn":1085,"v":1.4,"s":"k"},{"wn":1076,"v":0.7,"s":"k"},{"wn":1068,"v":0.5,"s":"k"},{"wn":1058,"v":0.45,"s":"k"},{"wn":1048,"v":0.44,"s":"k"},{"wn":1040,"v":0.47,"s":"k"},{"wn":1030,"v":0.5,"s":"k"},{"wn":1025,"v":1.0,"s":"k"},{"wn":1021,"v":1.6,"s":"k"},{"wn":1016,"v":1.0,"s":"k"},{"wn":1010,"v":0.45,"s":"k"},{"wn":1003,"v":0.28,"s":"k"},{"wn":995,"v":0.26,"s":"k"},{"wn":985,"v":0.33,"s":"k"},{"wn":977,"v":0.5,"s":"k"},{"wn":970,"v":0.45,"s":"k"},{"wn":962,"v":0.3,"s":"k"},{"wn":952,"v":0.2,"s":"k"},{"wn":940,"v":0.15,"s":"k"},{"wn":925,"v":0.15,"s":"k"},{"wn":912,"v":0.2,"s":"k"},{"wn":900,"v":0.24,"s":"k"},{"wn":890,"v":0.25,"s":"k"},{"wn":882,"v":0.4,"s":"k"},{"wn":877,"v":0.54,"s":"k"},{"wn":871,"v":0.4,"s":"k"},{"wn":864,"v":0.3,"s":"k"},{"wn":857,"v":0.38,"s":"k"},{"wn":851,"v":0.38,"s":"k"},{"wn":843,"v":0.26,"s":"k"},{"wn":833,"v":0.17,"s":"k"},{"wn":823,"v":0.15,"s":"k"},{"wn":815,"v":0.2,"s":"k"},{"wn":810,"v":0.24,"s":"k"},{"wn":804,"v":0.18,"s":"k"},{"wn":795,"v":0.15,"s":"k"},{"wn":785,"v":0.11,"s":"k"},{"wn":770,"v":0.095,"s":"k"},{"wn":757,"v":0.1,"s":"k"},{"wn":748,"v":0.18,"s":"k"},{"wn":740,"v":0.7,"s":"k"},{"wn":735,"v":1.4,"s":"k"},{"wn":731,"v":1.86,"s":"k"},{"wn":727,"v":1.3,"s":"k"},{"wn":722,"v":0.5,"s":"k"},{"wn":716,"v":0.15,"s":"k"},{"wn":708,"v":0.09,"s":"k"},{"wn":700,"v":0.07,"s":"k"},{"wn":690,"v":0.06,"s":"k"},{"wn":680,"v":0.05,"s":"k"},{"wn":660,"v":0.04,"s":"k"},{"wn":640,"v":0.035,"s":"k"},{"wn":620,"v":0.03,"s":"k"},{"wn":605,"v":0.03,"s":"k"},
{"wn":4000,"v":0.09,"s":"r"},{"wn":3900,"v":0.088,"s":"r"},{"wn":3800,"v":0.087,"s":"r"},{"wn":3700,"v":0.09,"s":"r"},{"wn":3660,"v":0.11,"s":"r"},{"wn":3620,"v":0.125,"s":"r"},{"wn":3580,"v":0.13,"s":"r"},{"wn":3550,"v":0.15,"s":"r"},{"wn":3520,"v":0.145,"s":"r"},{"wn":3490,"v":0.14,"s":"r"},{"wn":3460,"v":0.14,"s":"r"},{"wn":3440,"v":0.17,"s":"r"},{"wn":3432,"v":0.19,"s":"r"},{"wn":3424,"v":0.17,"s":"r"},{"wn":3410,"v":0.14,"s":"r"},{"wn":3380,"v":0.135,"s":"r"},{"wn":3340,"v":0.145,"s":"r"},{"wn":3300,"v":0.15,"s":"r"},{"wn":3250,"v":0.148,"s":"r"},{"wn":3200,"v":0.145,"s":"r"},{"wn":3150,"v":0.15,"s":"r"},{"wn":3100,"v":0.16,"s":"r"},{"wn":3080,"v":0.175,"s":"r"},{"wn":3060,"v":0.185,"s":"r"},{"wn":3052,"v":0.19,"s":"r"},{"wn":3042,"v":0.15,"s":"r"},{"wn":3030,"v":0.16,"s":"r"},{"wn":3010,"v":0.2,"s":"r"},{"wn":2990,"v":0.26,"s":"r"},{"wn":2975,"v":0.34,"s":"r"},{"wn":2966,"v":0.37,"s":"r"},{"wn":2958,"v":0.34,"s":"r"},{"wn":2945,"v":0.24,"s":"r"},{"wn":2930,"v":0.17,"s":"r"},{"wn":2920,"v":0.19,"s":"r"},{"wn":2910,"v":0.24,"s":"r"},{"wn":2900,"v":0.2,"s":"r"},{"wn":2885,"v":0.17,"s":"r"},{"wn":2860,"v":0.14,"s":"r"},{"wn":2830,"v":0.12,"s":"r"},{"wn":2800,"v":0.11,"s":"r"},{"wn":2750,"v":0.105,"s":"r"},{"wn":2700,"v":0.1,"s":"r"},{"wn":2650,"v":0.1,"s":"r"},{"wn":2600,"v":0.105,"s":"r"},{"wn":2550,"v":0.105,"s":"r"},{"wn":2500,"v":0.095,"s":"r"},{"wn":2450,"v":0.09,"s":"r"},{"wn":2400,"v":0.095,"s":"r"},{"wn":2380,"v":0.1,"s":"r"},{"wn":2350,"v":0.095,"s":"r"},{"wn":2300,"v":0.09,"s":"r"},{"wn":2250,"v":0.092,"s":"r"},{"wn":2200,"v":0.088,"s":"r"},{"wn":2150,"v":0.088,"s":"r"},{"wn":2110,"v":0.1,"s":"r"},{"wn":2080,"v":0.095,"s":"r"},{"wn":2050,"v":0.08,"s":"r"},{"wn":2020,"v":0.075,"s":"r"},{"wn":1990,"v":0.09,"s":"r"},{"wn":1970,"v":0.12,"s":"r"},{"wn":1960,"v":0.14,"s":"r"},{"wn":1950,"v":0.12,"s":"r"},{"wn":1930,"v":0.09,"s":"r"},{"wn":1900,"v":0.075,"s":"r"},{"wn":1880,"v":0.065,"s":"r"},{"wn":1860,"v":0.07,"s":"r"},{"wn":1840,"v":0.1,"s":"r"},{"wn":1820,"v":0.12,"s":"r"},{"wn":1795,"v":0.13,"s":"r"},{"wn":1780,"v":0.16,"s":"r"},{"wn":1768,"v":0.25,"s":"r"},{"wn":1758,"v":0.6,"s":"r"},{"wn":1750,"v":1.2,"s":"r"},{"wn":1742,"v":1.9,"s":"r"},{"wn":1735,"v":2.3,"s":"r"},{"wn":1728,"v":2.37,"s":"r"},{"wn":1722,"v":2.3,"s":"r"},{"wn":1716,"v":1.9,"s":"r"},{"wn":1710,"v":1.2,"s":"r"},{"wn":1703,"v":0.75,"s":"r"},{"wn":1695,"v":0.6,"s":"r"},{"wn":1685,"v":0.4,"s":"r"},{"wn":1672,"v":0.28,"s":"r"},{"wn":1660,"v":0.21,"s":"r"},{"wn":1645,"v":0.17,"s":"r"},{"wn":1632,"v":0.17,"s":"r"},{"wn":1624,"v":0.2,"s":"r"},{"wn":1615,"v":0.16,"s":"r"},{"wn":1605,"v":0.14,"s":"r"},{"wn":1596,"v":0.18,"s":"r"},{"wn":1588,"v":0.3,"s":"r"},{"wn":1582,"v":0.2,"s":"r"},{"wn":1572,"v":0.14,"s":"r"},{"wn":1560,"v":0.12,"s":"r"},{"wn":1545,"v":0.13,"s":"r"},{"wn":1530,"v":0.15,"s":"r"},{"wn":1518,"v":0.17,"s":"r"},{"wn":1510,"v":0.47,"s":"r"},{"wn":1504,"v":0.22,"s":"r"},{"wn":1496,"v":0.16,"s":"r"},{"wn":1488,"v":0.3,"s":"r"},{"wn":1480,"v":0.38,"s":"r"},{"wn":1472,"v":0.35,"s":"r"},{"wn":1463,"v":0.41,"s":"r"},{"wn":1455,"v":0.36,"s":"r"},{"wn":1445,"v":0.3,"s":"r"},{"wn":1435,"v":0.26,"s":"r"},{"wn":1427,"v":0.25,"s":"r"},{"wn":1420,"v":0.5,"s":"r"},{"wn":1414,"v":1.41,"s":"r"},{"wn":1408,"v":0.7,"s":"r"},{"wn":1400,"v":0.45,"s":"r"},{"wn":1392,"v":0.45,"s":"r"},{"wn":1385,"v":0.52,"s":"r"},{"wn":1378,"v":0.55,"s":"r"},{"wn":1370,"v":0.45,"s":"r"},{"wn":1364,"v":0.42,"s":"r"},{"wn":1356,"v":0.75,"s":"r"},{"wn":1348,"v":1.5,"s":"r"},{"wn":1343,"v":1.74,"s":"r"},{"wn":1338,"v":1.2,"s":"r"},{"wn":1330,"v":0.52,"s":"r"},{"wn":1324,"v":0.5,"s":"r"},{"wn":1318,"v":0.7,"s":"r"},{"wn":1310,"v":1.4,"s":"r"},{"wn":1302,"v":2.0,"s":"r"},{"wn":1293,"v":2.3,"s":"r"},{"wn":1284,"v":2.38,"s":"r"},{"wn":1275,"v":2.4,"s":"r"},{"wn":1265,"v":2.4,"s":"r"},{"wn":1258,"v":2.39,"s":"r"},{"wn":1251,"v":2.38,"s":"r"},{"wn":1244,"v":2.3,"s":"r"},{"wn":1236,"v":1.7,"s":"r"},{"wn":1228,"v":1.1,"s":"r"},{"wn":1220,"v":0.62,"s":"r"},{"wn":1210,"v":0.45,"s":"r"},{"wn":1200,"v":0.37,"s":"r"},{"wn":1192,"v":0.35,"s":"r"},{"wn":1185,"v":0.45,"s":"r"},{"wn":1178,"v":0.5,"s":"r"},{"wn":1170,"v":0.46,"s":"r"},{"wn":1162,"v":0.62,"s":"r"},{"wn":1152,"v":1.4,"s":"r"},{"wn":1143,"v":2.1,"s":"r"},{"wn":1135,"v":2.28,"s":"r"},{"wn":1127,"v":2.3,"s":"r"},{"wn":1120,"v":2.29,"s":"r"},{"wn":1113,"v":2.3,"s":"r"},{"wn":1107,"v":2.33,"s":"r"},{"wn":1100,"v":2.3,"s":"r"},{"wn":1093,"v":2.0,"s":"r"},{"wn":1085,"v":1.3,"s":"r"},{"wn":1076,"v":0.7,"s":"r"},{"wn":1068,"v":0.5,"s":"r"},{"wn":1058,"v":0.46,"s":"r"},{"wn":1048,"v":0.45,"s":"r"},{"wn":1040,"v":0.48,"s":"r"},{"wn":1030,"v":0.5,"s":"r"},{"wn":1025,"v":0.95,"s":"r"},{"wn":1021,"v":1.55,"s":"r"},{"wn":1016,"v":1.0,"s":"r"},{"wn":1010,"v":0.45,"s":"r"},{"wn":1003,"v":0.3,"s":"r"},{"wn":995,"v":0.27,"s":"r"},{"wn":985,"v":0.34,"s":"r"},{"wn":977,"v":0.5,"s":"r"},{"wn":970,"v":0.46,"s":"r"},{"wn":962,"v":0.32,"s":"r"},{"wn":952,"v":0.22,"s":"r"},{"wn":940,"v":0.16,"s":"r"},{"wn":925,"v":0.16,"s":"r"},{"wn":912,"v":0.22,"s":"r"},{"wn":900,"v":0.25,"s":"r"},{"wn":890,"v":0.26,"s":"r"},{"wn":882,"v":0.4,"s":"r"},{"wn":877,"v":0.55,"s":"r"},{"wn":871,"v":0.4,"s":"r"},{"wn":864,"v":0.32,"s":"r"},{"wn":857,"v":0.4,"s":"r"},{"wn":851,"v":0.39,"s":"r"},{"wn":843,"v":0.28,"s":"r"},{"wn":833,"v":0.19,"s":"r"},{"wn":823,"v":0.16,"s":"r"},{"wn":815,"v":0.21,"s":"r"},{"wn":810,"v":0.25,"s":"r"},{"wn":804,"v":0.19,"s":"r"},{"wn":795,"v":0.16,"s":"r"},{"wn":785,"v":0.12,"s":"r"},{"wn":770,"v":0.1,"s":"r"},{"wn":757,"v":0.11,"s":"r"},{"wn":748,"v":0.18,"s":"r"},{"wn":740,"v":0.65,"s":"r"},{"wn":735,"v":1.3,"s":"r"},{"wn":731,"v":1.7,"s":"r"},{"wn":727,"v":1.2,"s":"r"},{"wn":722,"v":0.5,"s":"r"},{"wn":716,"v":0.15,"s":"r"},{"wn":708,"v":0.09,"s":"r"},{"wn":700,"v":0.07,"s":"r"},{"wn":690,"v":0.06,"s":"r"},{"wn":680,"v":0.05,"s":"r"},{"wn":660,"v":0.04,"s":"r"},{"wn":640,"v":0.035,"s":"r"},{"wn":620,"v":0.03,"s":"r"},{"wn":605,"v":0.03,"s":"r"}
]
},
"vconcat": [
{"hconcat": [
 {"width": 479, "height": 288, "data": {"name": "a"}, "title": "(a) Biothene", "mark": "line",
  "encoding": {"x": {"field": "wn", "type": "quantitative", "scale": {"domain": [571, 4029], "reverse": true, "nice": false, "zero": false}, "axis": {"values": [1000, 1500, 2000, 2500, 3000, 3500, 4000], "format": "d", "title": "Wavenumber, cm⁻¹"}},
   "y": {"field": "v", "type": "quantitative", "scale": {"domain": [-0.12, 3.12], "nice": false, "zero": false}, "axis": {"values": [0, 0.5, 1, 1.5, 2, 2.5, 3], "format": ".1f", "title": "Attenuation coefficient"}},
   "color": {"field": "s", "type": "nominal", "scale": {"domain": ["k", "r"], "range": ["#1c1c1c", "#f04646"]}, "legend": null}}},
 {"width": 479, "height": 288, "data": {"name": "b"}, "title": "(b) Polyethene", "mark": "line",
  "encoding": {"x": {"field": "wn", "type": "quantitative", "scale": {"domain": [571, 4029], "reverse": true, "nice": false, "zero": false}, "axis": {"values": [1000, 1500, 2000, 2500, 3000, 3500, 4000], "format": "d", "title": "Wavenumber, cm⁻¹"}},
   "y": {"field": "v", "type": "quantitative", "scale": {"domain": [-0.12, 3.12], "nice": false, "zero": false}, "axis": {"values": [0, 0.5, 1, 1.5, 2, 2.5, 3], "format": ".1f", "title": "Attenuation coefficient"}},
   "color": {"field": "s", "type": "nominal", "scale": {"domain": ["k", "r"], "range": ["#1c1c1c", "#f04646"]}, "legend": null}}}
], "spacing": 42},
{"hconcat": [
 {"width": 479, "height": 288, "data": {"name": "c"}, "title": "(c) Polystyrene", "mark": "line",
  "encoding": {"x": {"field": "wn", "type": "quantitative", "scale": {"domain": [571, 4029], "reverse": true, "nice": false, "zero": false}, "axis": {"values": [1000, 1500, 2000, 2500, 3000, 3500, 4000], "format": "d", "title": "Wavenumber, cm⁻¹"}},
   "y": {"field": "v", "type": "quantitative", "scale": {"domain": [-0.12, 3.12], "nice": false, "zero": false}, "axis": {"values": [0, 0.5, 1, 1.5, 2, 2.5, 3], "format": ".1f", "title": "Attenuation coefficient"}},
   "color": {"field": "s", "type": "nominal", "scale": {"domain": ["k", "r"], "range": ["#1c1c1c", "#f04646"]}, "legend": null}}},
 {"width": 479, "height": 288, "data": {"name": "d"}, "title": "(d) Poly(ethylene-terephthalate)", "mark": "line",
  "encoding": {"x": {"field": "wn", "type": "quantitative", "scale": {"domain": [571, 4029], "reverse": true, "nice": false, "zero": false}, "axis": {"values": [1000, 1500, 2000, 2500, 3000, 3500, 4000], "format": "d", "title": "Wavenumber, cm⁻¹"}},
   "y": {"field": "v", "type": "quantitative", "scale": {"domain": [-0.12, 3.12], "nice": false, "zero": false}, "axis": {"values": [0, 0.5, 1, 1.5, 2, 2.5, 3], "format": ".1f", "title": "Attenuation coefficient"}},
   "color": {"field": "s", "type": "nominal", "scale": {"domain": ["k", "r"], "range": ["#1c1c1c", "#f04646"]}, "legend": null}}}
], "spacing": 42}
],
"spacing": 32
}
